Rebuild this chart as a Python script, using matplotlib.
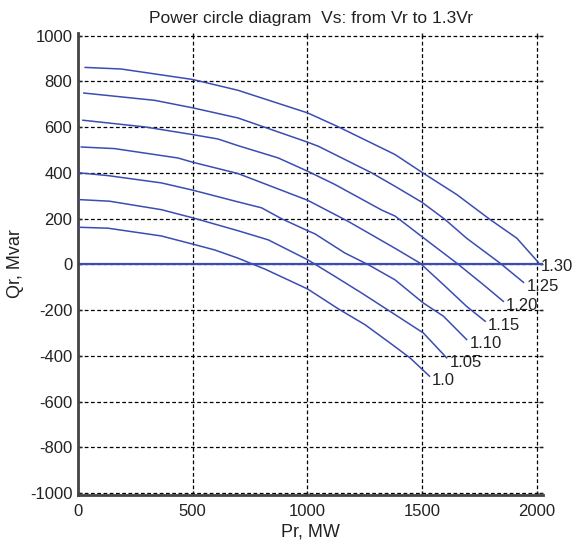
import matplotlib
matplotlib.use("Agg")
import matplotlib.pyplot as plt

plt.rcParams['font.family'] = ['Liberation Sans', 'DejaVu Sans']
plt.rcParams['axes.unicode_minus'] = False

# voltage ratios Vs/Vr and the receiving-end power curves
labels = ["1.0", "1.05", "1.10", "1.15", "1.20", "1.25", "1.30"]

p_100 = [5, 131, 364, 502, 596, 698, 816, 1002, 1136, 1252, 1361, 1448, 1533]
q_100 = [162, 158, 124, 88, 63, 27, -21, -108, -195, -264, -344, -409, -489]

p_105 = [5, 138, 364, 502, 698, 830, 1002, 1121, 1238, 1383, 1506, 1608]
q_105 = [283, 276, 239, 203, 147, 107, 20, -53, -126, -220, -300, -409]

p_110 = [5, 131, 364, 502, 698, 801, 889, 1002, 1034, 1165, 1267, 1383, 1506, 1594, 1695]
q_110 = [400, 388, 356, 324, 273, 247, 199, 147, 133, 49, -2, -68, -169, -227, -329]

p_115 = [15, 160, 436, 502, 698, 1002, 1180, 1383, 1492, 1594, 1695, 1776]
q_115 = [513, 506, 465, 446, 397, 280, 187, 70, 5, -89, -184, -249]

p_120 = [22, 291, 502, 611, 698, 874, 1002, 1121, 1325, 1383, 1521, 1652, 1768, 1855]
q_120 = [630, 601, 567, 548, 519, 465, 407, 349, 237, 211, 105, 5, -89, -162]

p_125 = [26, 335, 502, 698, 1002, 1049, 1281, 1383, 1499, 1601, 1695, 1841, 1943]
q_125 = [749, 717, 684, 640, 534, 516, 400, 341, 272, 196, 114, 5, -79]

p_130 = [32, 189, 502, 698, 1002, 1136, 1383, 1499, 1652, 1797, 1914, 2008]
q_130 = [861, 854, 808, 761, 662, 601, 480, 403, 305, 196, 114, 8]

curves = [(p_100, q_100), (p_105, q_105), (p_110, q_110), (p_115, q_115),
          (p_120, q_120), (p_125, q_125), (p_130, q_130)]

x_ticks = [0, 500, 1000, 1500, 2000]
y_ticks = list(range(-1000, 1001, 200))

blue = '#3b4db3'
ink = '#222222'

fig = plt.figure(figsize=(5.81, 5.48), dpi=100)
ax = fig.add_axes([0.134, 0.097, 0.801, 0.843])

# zero line
ax.axhline(0, color=blue, lw=1.6, zorder=2)

for (p, q), lab in zip(curves, labels):
    ax.plot(p, q, color=blue, lw=1.1, zorder=3)
    ax.annotate(lab, xy=(p[-1], q[-1]), xytext=(2, -3), textcoords='offset points',
                ha='left', va='center', fontsize=12, color=ink)

ax.set_xlim(0, 2029)
ax.set_ylim(-1008, 1012)
ax.set_xticks(x_ticks)
ax.set_yticks(y_ticks)
ax.grid(True, color='black', linestyle=(0, (3, 2)), linewidth=0.9)
ax.set_axisbelow(True)

for s in ['top', 'right']:
    ax.spines[s].set_visible(False)
for s in ['left', 'bottom']:
    ax.spines[s].set_linewidth(2)
    ax.spines[s].set_color('#444444')

ax.tick_params(direction='in', length=3, width=1, labelsize=12,
               top=True, right=True, colors=ink)
ax.tick_params(axis='x', pad=6.5)
ax.tick_params(axis='y', pad=4)

ax.set_title("Power circle diagram  Vs: from Vr to 1.3Vr", fontsize=12.5, pad=7,
             color=ink)
ax.set_xlabel("Pr, MW", fontsize=13, color=ink, labelpad=3)
ax.set_ylabel("Qr, Mvar", fontsize=13, color=ink, labelpad=4)

fig.savefig("out.png", dpi=100)
